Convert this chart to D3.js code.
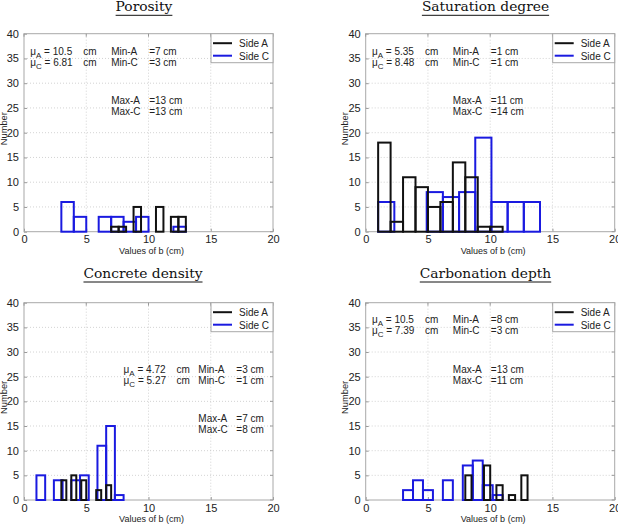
<!DOCTYPE html>
<html><head><meta charset="utf-8">
<script src="https://cdn.jsdelivr.net/npm/d3@7"></script>
<style>
body{margin:0;background:#fff;}
svg{display:block;}
text{font-family:"Liberation Sans",Arial,sans-serif;white-space:pre;}
</style></head>
<body><svg id="c" width="618" height="531"></svg>
<script>
// ---- data ----
const titles = ["Porosity", "Saturation degree", "Concrete density", "Carbonation depth"];
const xTicks = [0, 5, 10, 15, 20];
const yTicks = [0, 5, 10, 15, 20, 25, 30, 35, 40];
const seriesNames = ["Side A", "Side C"];
const minA = [7, 1, 3, 8];
const maxA = [13, 11, 7, 13];
const minC = [3, 1, 1, 3];
const maxC = [13, 14, 8, 11];
const countsA = [
  [1, 1, 0, 5, 0, 0, 5, 0, 3, 3],
  [18, 2, 11, 9, 5, 6, 14, 11, 1, 1],
  [4, 0, 5, 0, 4, 0, 0, 2, 0, 3],
  [5, 0, 0, 7, 0, 3, 0, 1, 0, 5]
];
const countsC = [
  [6, 3, 0, 3, 3, 2, 3, 0, 0, 1],
  [6, 0, 0, 8, 7, 8, 19, 6, 6, 6],
  [5, 0, 4, 0, 4, 5, 0, 11, 15, 1],
  [2, 4, 2, 0, 4, 0, 7, 8, 3, 1]
];
const meanA = ["10.5", "5.35", "4.72", "10.5"];
const meanC = ["6.81", "8.48", "5.27", "7.39"];

// ---- layout ----
const panels = [
  {x: 24, y: 33.7, w: 249, h: 198, tx: 144, ty: 10.8},
  {x: 365.7, y: 33.7, w: 249, h: 198, tx: 485.5, ty: 10.8},
  {x: 24, y: 302.7, w: 249, h: 197.3, tx: 143, ty: 277.5},
  {x: 365.7, y: 302.7, w: 249, h: 197.3, tx: 485.5, ty: 277.5}
];
const statPos = [
  {mx: 0.5, my: 35.7, nx: 7, xy: 25.8},
  {mx: 0.5, my: 35.7, nx: 7, xy: 25.8},
  {mx: 8, my: 25.8, nx: 14, xy: 15.8},
  {mx: 0.5, my: 35.8, nx: 7, xy: 25.8}
];
const colA = "#111111", colC = "#1a1ae0";

const svg = d3.select("#c");

function bins(min, max, counts) {
  const w = (max - min) / counts.length;
  return counts.map((c, i) => ({x0: min + i * w, x1: min + (i + 1) * w, n: c})).filter(d => d.n > 0);
}

panels.forEach((p, k) => {
  const g = svg.append("g");
  const x = d3.scaleLinear().domain([0, 20]).range([p.x, p.x + p.w]);
  const y = d3.scaleLinear().domain([0, 40]).range([p.y + p.h, p.y]);

  g.append("rect").attr("x", p.x).attr("y", p.y).attr("width", p.w).attr("height", p.h).attr("fill", "#fff");

  // grid
  g.selectAll(".gx").data(xTicks.slice(1, -1)).join("line")
    .attr("x1", d => x(d)).attr("x2", d => x(d)).attr("y1", p.y).attr("y2", p.y + p.h)
    .attr("stroke", "#c8c8c8").attr("stroke-width", 0.8).attr("stroke-dasharray", "1,2");
  g.selectAll(".gy").data(yTicks.slice(1, -1)).join("line")
    .attr("y1", d => y(d)).attr("y2", d => y(d)).attr("x1", p.x).attr("x2", p.x + p.w)
    .attr("stroke", "#c8c8c8").attr("stroke-width", 0.8).attr("stroke-dasharray", "1,2");

  // axes
  const ax = g.append("g").attr("transform", `translate(0,${p.y + p.h})`)
    .call(d3.axisBottom(x).tickValues(xTicks).tickSize(-3).tickPadding(4).tickFormat(d3.format("d")));
  const ay = g.append("g").attr("transform", `translate(${p.x},0)`)
    .call(d3.axisLeft(y).tickValues(yTicks).tickSize(-3).tickPadding(5).tickFormat(d3.format("d")));
  [ax, ay].forEach(a => {
    a.select(".domain").remove();
    a.selectAll(".tick line").attr("stroke", "#999");
    a.selectAll(".tick text").attr("fill", "#222").style("font-size", "11px").style("font-family", "Liberation Sans, Arial, sans-serif");
  });
  g.append("rect").attr("x", p.x).attr("y", p.y).attr("width", p.w).attr("height", p.h)
    .attr("fill", "none").attr("stroke", "#a8a8a8").attr("stroke-width", 1);
  g.selectAll(".tt").data(xTicks).join("line")
    .attr("x1", d => x(d)).attr("x2", d => x(d)).attr("y1", p.y).attr("y2", p.y + 3).attr("stroke", "#999");
  g.selectAll(".tr").data(yTicks).join("line")
    .attr("y1", d => y(d)).attr("y2", d => y(d)).attr("x1", p.x + p.w).attr("x2", p.x + p.w - 3).attr("stroke", "#999");

  // bars
  const drawBars = (data, col) => {
    g.append("g").selectAll("rect").data(data).join("rect")
      .attr("x", d => x(d.x0)).attr("y", d => y(d.n))
      .attr("width", d => x(d.x1) - x(d.x0)).attr("height", d => y(0) - y(d.n))
      .attr("fill", "none").attr("stroke", col).attr("stroke-width", 2);
  };
  drawBars(bins(minC[k], maxC[k], countsC[k]), colC);
  drawBars(bins(minA[k], maxA[k], countsA[k]), colA);

  // axis labels
  g.append("text").attr("x", p.x + p.w / 2 + 3).attr("y", p.y + p.h + 22)
    .attr("text-anchor", "middle").style("font-size", "9px").attr("fill", "#222").text("Values of b (cm)");
  g.append("text").attr("transform", `translate(${p.x - 17.5},${p.y + p.h / 2 - 4}) rotate(-90)`)
    .attr("text-anchor", "middle").style("font-size", "9.3px").attr("fill", "#222").text("Number");

  // title
  const t = g.append("text").attr("x", p.tx).attr("y", p.ty).attr("text-anchor", "middle")
    .style("font-family", "DejaVu Serif, serif").style("font-size", "13.8px").attr("fill", "#111")
    .text(titles[k]);
  const tw = t.node().getComputedTextLength();
  g.append("line").attr("x1", p.tx - tw / 2).attr("x2", p.tx + tw / 2).attr("y1", p.ty + 4.5).attr("y2", p.ty + 4.5)
    .attr("stroke", "#111").attr("stroke-width", 1);

  // stats annotations
  const s = statPos[k];
  const sx = x(s.mx), sy = y(s.my);
  [["A", meanA[k]], ["C", meanC[k]]].forEach((m, i) => {
    const tt = g.append("text").attr("x", sx).attr("y", sy + i * 11).style("font-size", "10px").attr("fill", "#222");
    tt.append("tspan").text("\u03bc");
    tt.append("tspan").attr("dy", 3).style("font-size", "8px").text(m[0]);
    tt.append("tspan").attr("dy", -3).text(" = " + m[1]);
    g.append("text").attr("x", sx + 53).attr("y", sy + i * 11).style("font-size", "10px").attr("fill", "#222").text("cm");
  });
  const nx = x(s.nx);
  [["Min-A", minA[k]], ["Min-C", minC[k]]].forEach((m, i) => {
    g.append("text").attr("x", nx).attr("y", sy + i * 11).style("font-size", "10px").attr("fill", "#222").text(m[0]);
    g.append("text").attr("x", nx + 38).attr("y", sy + i * 11).style("font-size", "10px").attr("fill", "#222").text("=" + m[1] + " cm");
  });
  const xy = y(s.xy);
  [["Max-A", maxA[k]], ["Max-C", maxC[k]]].forEach((m, i) => {
    g.append("text").attr("x", nx).attr("y", xy + i * 11).style("font-size", "10px").attr("fill", "#222").text(m[0]);
    g.append("text").attr("x", nx + 38).attr("y", xy + i * 11).style("font-size", "10px").attr("fill", "#222").text("=" + m[1] + " cm");
  });

  // legend
  const lx = p.x + p.w - 62, ly = p.y;
  const lg = g.append("g");
  lg.append("rect").attr("x", lx).attr("y", ly).attr("width", 62).attr("height", 29)
    .attr("fill", "#fff").attr("stroke", "#a8a8a8").attr("stroke-width", 1);
  seriesNames.forEach((nm, i) => {
    const yy = ly + 9.5 + i * 12.5;
    lg.append("line").attr("x1", lx + 2).attr("x2", lx + 21).attr("y1", yy).attr("y2", yy)
      .attr("stroke", i === 0 ? colA : colC).attr("stroke-width", 2);
    lg.append("text").attr("x", lx + 28).attr("y", yy + 4).style("font-size", "10px").attr("fill", "#222").text(nm);
  });
});
</script></body></html>
